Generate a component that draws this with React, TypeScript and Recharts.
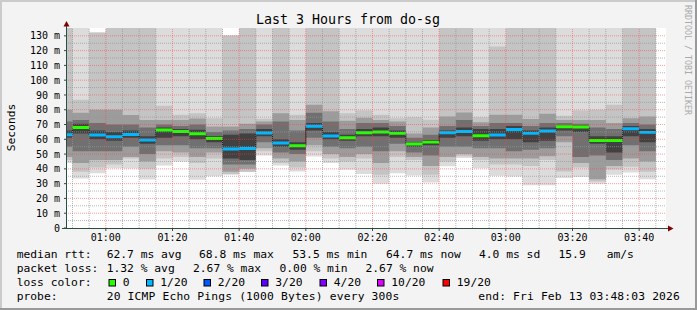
import { ComposedChart, Area, Line, XAxis, YAxis, ReferenceLine, CartesianGrid } from 'recharts'

const mono = '"DejaVu Sans Mono", monospace'

// start of each 5-minute slot, minutes after midnight (00:45 .. 03:40)
const slotStart = [45, 50, 55, 60, 65, 70, 75, 80, 85, 90, 95, 100, 105, 110, 115, 120, 125, 130,
  135, 140, 145, 150, 155, 160, 165, 170, 175, 180, 185, 190, 195, 200, 205, 210, 215, 220]
const lastSlotEnd = 225

// median rtt per slot (ms)
const medianRtt = [63.1, 68.0, 62.9, 61.7, 63.3, 59.5, 66.3, 65.3, 63.8, 60.6, 53.4, 53.8, 64.2, 57.5, 55.6, 68.8, 62.2, 61.1,
  64.4, 64.9, 64.0, 56.8, 58.1, 64.4, 65.3, 62.4, 62.9, 66.7, 64.0, 65.6, 68.5, 68.3, 59.2, 59.2, 67.1, 64.7]
// lost pings out of 20
const lostPings = [1, 0, 1, 1, 1, 1, 0, 0, 0, 0, 1, 1, 1, 1, 0, 1, 1, 0,
  0, 0, 0, 0, 0, 1, 1, 0, 1, 1, 1, 1, 0, 0, 0, 0, 1, 1]

// smoke layers, outermost first (ms)
const maxRtt = [136, 136, 132.3, 136, 136, 136, 136, 136, 136, 136, 130.2, 136, 136, 136, 136, 136, 136, 136,
  136, 136, 136, 136, 136, 136, 136, 136, 136, 136, 136, 136, 136, 136, 136, 136, 136, 136]
const minRtt = [44, 33.5, 37, 40.5, 40.3, 32.8, 42.3, 45, 32.7, 35, 36, 37.8, 49, 42.3, 38.3, 48.4, 44, 39.4,
  36.5, 30, 37, 35.5, 30.8, 41.7, 47.3, 40.5, 35.4, 34.8, 29, 29, 33.8, 34.5, 30, 36, 37.5, 33]
const band2Hi = [136, 86.7, 132.3, 136, 136, 136, 82.7, 76.6, 77.7, 74.3, 130.2, 136, 73.9, 136, 76.6, 136, 136, 77.7,
  79.5, 76.6, 74.3, 75, 73.2, 136, 136, 75, 122.8, 136, 136, 136, 75.9, 79.5, 80, 83.4, 136, 136]
const band2Lo = [46, 38, 41, 43, 47, 40, 47, 48, 44, 47, 36.5, 38, 52, 44, 41, 52, 47, 45,
  47, 36, 48, 46, 36, 45, 48.5, 46, 43, 43, 42, 46, 38.3, 41, 31.5, 39.5, 41.5, 38]
const band3Hi = [80, 78, 80, 80, 76.5, 73, 73, 73, 74, 68.7, 68.7, 70.5, 72, 77.7, 73, 83.4, 78.9, 72.5,
  74.5, 73, 72, 64, 68, 75.5, 78.2, 71.5, 76.6, 76.6, 73.7, 77.3, 73, 73, 73, 71, 74.3, 75.5]
const band3Lo = [48, 44, 46, 46, 48, 45, 52, 51, 48, 51, 38, 40, 54, 47, 45, 56, 50, 48,
  50, 44, 52, 48, 42, 48, 50, 48, 47, 47, 47, 48.5, 58, 44, 33, 42, 47, 45]
const band4Hi = [72, 73, 71, 70, 70, 68, 70, 69, 70, 65, 66, 67, 70, 72, 66, 78, 72, 67,
  71, 71, 69, 61, 63, 69, 73, 69, 71, 71, 69, 71, 71, 70.5, 68, 67, 71, 70]
const band4Lo = [55, 52, 52, 52, 55, 50, 56, 56, 54, 54, 43, 43, 58, 51, 50, 61, 55, 54,
  55, 52, 57, 51, 49, 55, 55, 54, 54, 52, 53, 54, 62, 48, 49, 46, 56, 52]
const coreHi = [66, 70.5, 66, 65, 66, 62, 68, 67, 66.5, 62, 63, 64, 67, 60, 58, 71, 65, 63,
  67, 68, 66, 58, 59.5, 66, 68, 67, 67, 69, 66, 68, 69.5, 69.5, 62, 62, 69, 67]
const coreLo = [61, 64, 60, 59, 61, 57, 61, 62, 60, 58, 47, 46, 62, 55, 53, 66, 60, 59,
  62, 62, 61, 55, 56, 61, 62, 59, 60, 60, 58, 59, 66, 65, 57, 51, 62, 58]

const smokeLayers = [
  { key: 'outer', lo: minRtt, hi: maxRtt, color: '#dcdcdc' },
  { key: 'band2', lo: band2Lo, hi: band2Hi, color: '#c4c4c4' },
  { key: 'band3', lo: band3Lo, hi: band3Hi, color: '#9c9c9c' },
  { key: 'band4', lo: band4Lo, hi: band4Hi, color: '#707070' },
  { key: 'core', lo: coreLo, hi: coreHi, color: '#414141' },
]

const lossLevels = [0, 1, 2, 3, 4, 10, 19]
const lossLabels = ['0', '1/20', '2/20', '3/20', '4/20', '10/20', '19/20']
const lossColors = ['#26ff00', '#00b8ff', '#0059ff', '#5e00ff', '#7e00ff', '#dd00ff', '#ff0000']

const rttTicks = [0, 10, 20, 30, 40, 50, 60, 70, 80, 90, 100, 110, 120, 130]
const rttTickLabels = ['0', '10 m', '20 m', '30 m', '40 m', '50 m', '60 m', '70 m', '80 m', '90 m', '100 m', '110 m', '120 m', '130 m']
const rttMinorGrid = [5, 15, 25, 35, 45, 55, 65, 75, 85, 95, 105, 115, 125]
const timeTicks = [60, 80, 100, 120, 140, 160, 180, 200, 220]
const timeTickLabels = ['01:00', '01:20', '01:40', '02:00', '02:20', '02:40', '03:00', '03:20', '03:40']
const timeMinorGrid = [50, 55, 65, 70, 75, 85, 90, 95, 105, 110, 115, 125, 130, 135, 145, 150, 155,
  165, 170, 175, 185, 190, 195, 205, 210, 215, 225]

// two points per slot so every slot is drawn as a flat step
const rows: any[] = []
slotStart.forEach((t, i) => {
  const end = i + 1 < slotStart.length ? slotStart[i + 1] : lastSlotEnd
  for (const x of [t, end]) {
    const row: any = { t: x, median: medianRtt[i], lost: lostPings[i], mband: [medianRtt[i] - 1, medianRtt[i] + 1] }
    smokeLayers.forEach((l) => { row[l.key] = [l.lo[i], l.hi[i]] })
    rows.push(row)
  }
})

const axisColor = '#2c4d43'
const arrowColor = '#7f0000'
const minorColor = 'rgba(150,150,150,0.7)'
const majorColor = 'rgba(255,64,64,0.5)'

const row1 = [
  { x: 16.7, s: 'median rtt:' }, { x: 106.7, s: '62.7 ms avg' }, { x: 199, s: '68.8 ms max' },
  { x: 292.5, s: '53.5 ms min' }, { x: 386, s: '64.7 ms now' }, { x: 479, s: '4.0 ms sd' },
  { x: 558.5, s: '15.9' }, { x: 606.7, s: 'am/s' },
]
const row2 = [
  { x: 16.7, s: 'packet loss:' }, { x: 106.7, s: '1.32 % avg' }, { x: 193, s: '2.67 % max' },
  { x: 279.5, s: '0.00 % min' }, { x: 365.5, s: '2.67 % now' },
]
const swatchX = [108.5, 146, 203.5, 261, 319.5, 377, 442.5]

const App = () => {
  return (
    <div style={{ position: 'absolute', left: 0, top: 0, width: 697, height: 310, background: '#f3f3f3' }}>
      <ComposedChart width={697} height={310} data={rows} margin={{ top: 28, right: 31, bottom: 52, left: 0 }}>
        <CartesianGrid horizontal={false} vertical={false} fill="#ffffff" />
        <XAxis type="number" dataKey="t" domain={[48.05, 228.05]} allowDataOverflow ticks={timeTicks}
          tickFormatter={(v, i) => timeTickLabels[i]} interval={0} height={30} axisLine={false}
          tickSize={3} tickMargin={3} tickLine={{ stroke: axisColor }}
          tick={{ fill: '#000', fontSize: 10, fontFamily: mono }} />
        <YAxis type="number" domain={[0, 135.3]} allowDataOverflow ticks={rttTicks}
          tickFormatter={(v, i) => rttTickLabels[i]} interval={0} width={66} axisLine={false}
          tickSize={2} tickMargin={4} tickLine={{ stroke: axisColor }}
          tick={{ fill: '#000', fontSize: 10, fontFamily: mono }} />
        {smokeLayers.map((l) => (
          <Area key={l.key} type="linear" dataKey={l.key} stroke="none" fill={l.color} fillOpacity={1}
            dot={false} activeDot={false} isAnimationActive={false} zIndex={100} />
        ))}
        <Line type="linear" dataKey="median" stroke="#202020" strokeWidth={1} dot={false} activeDot={false}
          isAnimationActive={false} zIndex={150} />
        {lossLevels.map((lv, i) => (
          <Area key={'loss' + lv} type="linear" dataKey={(d: any) => (d.lost === lv ? d.mband : null)}
            stroke="none" fill={lossColors[i]} fillOpacity={1} dot={false} activeDot={false}
            isAnimationActive={false} zIndex={200} />
        ))}
        {rttMinorGrid.map((v) => (
          <ReferenceLine key={'hm' + v} y={v} stroke={minorColor} strokeDasharray="1 1" zIndex={300} />
        ))}
        {timeMinorGrid.map((v) => (
          <ReferenceLine key={'vm' + v} x={v} stroke={minorColor} strokeDasharray="1 1" zIndex={300} />
        ))}
        {rttTicks.slice(1).map((v) => (
          <ReferenceLine key={'hM' + v} y={v} stroke={majorColor} strokeDasharray="1 1" zIndex={300} />
        ))}
        {timeTicks.map((v) => (
          <ReferenceLine key={'vM' + v} x={v} stroke={majorColor} strokeDasharray="1 1" zIndex={300} />
        ))}
      </ComposedChart>

      <svg width={697} height={310} style={{ position: 'absolute', left: 0, top: 0, pointerEvents: 'none' }}>
        {/* frame */}
        <rect x={0} y={0} width={697} height={2} fill="#cbcbcb" />
        <rect x={0} y={0} width={2} height={310} fill="#cbcbcb" />
        <rect x={0} y={308} width={697} height={2} fill="#999999" />
        <rect x={695} y={0} width={2} height={310} fill="#999999" />

        {/* axes + arrows */}
        <line x1={66.5} y1={228.5} x2={66.5} y2={25} stroke={axisColor} strokeWidth={1} />
        <line x1={62} y1={228.5} x2={669} y2={228.5} stroke={axisColor} strokeWidth={1} />
        <polygon points="63.5,26.5 69.5,26.5 66.5,21" fill={arrowColor} />
        <polygon points="668,225.5 668,231.5 673.5,228.5" fill={arrowColor} />

        <text x={348} y={24} textAnchor="middle" fontFamily={mono} fontSize={13.3} fill="#000">
          Last 3 Hours from do-sg
        </text>
        <text x={11} y={127.5} transform="rotate(-90 11 127.5)" textAnchor="middle" dominantBaseline="central"
          fontFamily={mono} fontSize={11.3} fill="#000">
          Seconds
        </text>
        <text x={0} y={0} transform="translate(684.5 5) rotate(90)" fontFamily={mono} fontSize={8.3}
          fill="#aaaaaa" textLength={110} lengthAdjust="spacingAndGlyphs">
          RRDTOOL / TOBI OETIKER
        </text>

        <g fontFamily={mono} fontSize={11.3} fill="#000">
          {row1.map((it) => (
            <text key={it.s} x={it.x} y={257.5} style={{ whiteSpace: 'pre' }}>{it.s}</text>
          ))}
          {row2.map((it) => (
            <text key={it.s + it.x} x={it.x} y={271.6} style={{ whiteSpace: 'pre' }}>{it.s}</text>
          ))}
          <text x={16.7} y={285.7}>loss color:</text>
          {lossLabels.map((lab, i) => (
            <g key={lab}>
              <rect x={swatchX[i] + 0.5} y={279.5} width={6.5} height={6.5} fill={lossColors[i]} stroke="#000" strokeWidth={1} />
              <text x={swatchX[i] + 14.3} y={285.7}>{lab}</text>
            </g>
          ))}
          <text x={16.7} y={299.8}>probe:</text>
          <text x={106.7} y={299.8} textLength={292.6} lengthAdjust="spacing">20 ICMP Echo Pings (1000 Bytes) every 300s</text>
          <text x={478.3} y={299.8} textLength={201.5} lengthAdjust="spacing">end: Fri Feb 13 03:48:03 2026</text>
        </g>
      </svg>
    </div>
  )
}

export default App
